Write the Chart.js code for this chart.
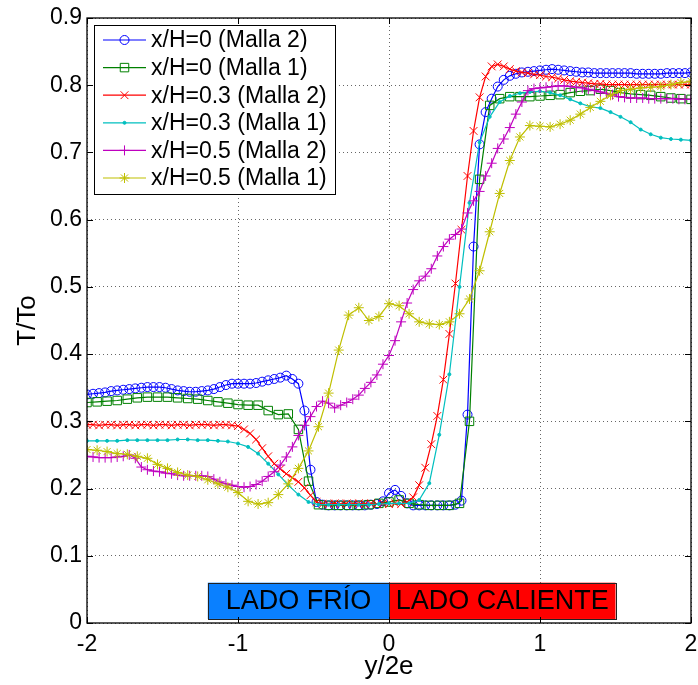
<!DOCTYPE html>
<html>
<head>
<meta charset="utf-8">
<script src="https://cdn.jsdelivr.net/npm/chart.js@4.4.1/dist/chart.umd.min.js"></script>
<style>
  html, body { margin: 0; padding: 0; background: #fff; }
  canvas { display: block; }
</style>
</head>
<body>
<canvas id="c" width="698" height="685"></canvas>
<script>
// positions across the channel (y/2e) for the two meshes
const xMalla2 = [-2, -1.96, -1.92, -1.88, -1.84, -1.8, -1.76, -1.72, -1.68, -1.64,
  -1.6, -1.56, -1.52, -1.48, -1.44, -1.4, -1.36, -1.32, -1.28, -1.24,
  -1.2, -1.16, -1.12, -1.08, -1.04, -1, -0.96, -0.92, -0.88, -0.84,
  -0.8, -0.76, -0.72, -0.68, -0.64, -0.6, -0.56, -0.52, -0.48, -0.44,
  -0.4, -0.36, -0.32, -0.28, -0.24, -0.2, -0.16, -0.12, -0.08, -0.04,
  0, 0.04, 0.08, 0.12, 0.16, 0.2, 0.24, 0.28, 0.32, 0.36,
  0.4, 0.44, 0.48, 0.52, 0.56, 0.6, 0.64, 0.68, 0.72, 0.76,
  0.8, 0.84, 0.88, 0.92, 0.96, 1, 1.04, 1.08, 1.12, 1.16,
  1.2, 1.24, 1.28, 1.32, 1.36, 1.4, 1.44, 1.48, 1.52, 1.56,
  1.6, 1.64, 1.68, 1.72, 1.76, 1.8, 1.84, 1.88, 1.92, 1.96, 2];

const xMalla1 = [-2, -1.933, -1.867, -1.8, -1.733, -1.667, -1.6, -1.533, -1.467, -1.4,
  -1.333, -1.267, -1.2, -1.133, -1.067, -1, -0.933, -0.867, -0.8, -0.733,
  -0.667, -0.6, -0.533, -0.467, -0.4, -0.333, -0.267, -0.2, -0.133, -0.067,
  0, 0.067, 0.133, 0.2, 0.267, 0.333, 0.4, 0.467, 0.533, 0.6,
  0.667, 0.733, 0.8, 0.867, 0.933, 1, 1.067, 1.133, 1.2, 1.267,
  1.333, 1.4, 1.467, 1.533, 1.6, 1.667, 1.733, 1.8, 1.867, 1.933, 2];

// T/To profiles
const tH0Malla2 = [0.340, 0.341, 0.342, 0.343, 0.345, 0.346, 0.347, 0.348, 0.349, 0.350,
  0.351, 0.351, 0.351, 0.350, 0.348, 0.346, 0.345, 0.344, 0.344, 0.345,
  0.346, 0.348, 0.351, 0.354, 0.356, 0.356, 0.356, 0.356, 0.357, 0.359,
  0.361, 0.363, 0.365, 0.368, 0.363, 0.356, 0.316, 0.228, 0.180, 0.176,
  0.175, 0.175, 0.175, 0.175, 0.175, 0.175, 0.175, 0.176, 0.177, 0.181,
  0.193, 0.198, 0.189, 0.178, 0.175, 0.175, 0.175, 0.175, 0.175, 0.175,
  0.175, 0.176, 0.182, 0.310, 0.560, 0.712, 0.760, 0.780, 0.798, 0.808,
  0.814, 0.817, 0.819, 0.820, 0.821, 0.822, 0.823, 0.824, 0.823, 0.822,
  0.821, 0.820, 0.819, 0.819, 0.818, 0.818, 0.818, 0.818, 0.818, 0.818,
  0.818, 0.817, 0.817, 0.817, 0.817, 0.817, 0.818, 0.818, 0.818, 0.818, 0.819];

const tH0Malla1 = [0.328, 0.329, 0.330, 0.331, 0.333, 0.335, 0.336, 0.336, 0.336, 0.335,
  0.334, 0.333, 0.331, 0.329, 0.327, 0.325, 0.324, 0.324, 0.316, 0.310,
  0.311, 0.288, 0.211, 0.176, 0.175, 0.175, 0.175, 0.175, 0.176, 0.178,
  0.180, 0.183, 0.178, 0.176, 0.175, 0.175, 0.175, 0.178, 0.300, 0.660,
  0.770, 0.780, 0.783, 0.783, 0.783, 0.784, 0.785, 0.786, 0.789, 0.791,
  0.792, 0.794, 0.792, 0.789, 0.787, 0.786, 0.785, 0.783, 0.781, 0.780, 0.779];

const tH03Malla2 = [0.295, 0.295, 0.294, 0.295, 0.295, 0.294, 0.295, 0.295, 0.294, 0.295,
  0.295, 0.294, 0.295, 0.295, 0.294, 0.295, 0.295, 0.294, 0.295, 0.295,
  0.295, 0.294, 0.295, 0.295, 0.294, 0.293, 0.288, 0.282, 0.273, 0.260,
  0.248, 0.237, 0.229, 0.222, 0.216, 0.210, 0.201, 0.190, 0.180, 0.177,
  0.177, 0.178, 0.177, 0.178, 0.177, 0.178, 0.177, 0.178, 0.177, 0.178,
  0.177, 0.178, 0.177, 0.180, 0.187, 0.205, 0.231, 0.266, 0.308, 0.362,
  0.430, 0.505, 0.585, 0.665, 0.732, 0.782, 0.813, 0.828, 0.831, 0.828,
  0.824, 0.821, 0.819, 0.818, 0.816, 0.815, 0.813, 0.812, 0.810, 0.808,
  0.806, 0.805, 0.804, 0.803, 0.802, 0.802, 0.801, 0.801, 0.801, 0.801,
  0.801, 0.801, 0.801, 0.801, 0.801, 0.801, 0.801, 0.801, 0.801, 0.801, 0.801];

const tH03Malla1 = [0.271, 0.271, 0.271, 0.271, 0.272, 0.272, 0.272, 0.272, 0.272, 0.273,
  0.273, 0.272, 0.272, 0.271, 0.270, 0.267, 0.262, 0.252, 0.237, 0.221,
  0.205, 0.191, 0.180, 0.176, 0.176, 0.176, 0.176, 0.176, 0.176, 0.177,
  0.178, 0.178, 0.178, 0.183, 0.208, 0.280, 0.370, 0.500, 0.625, 0.715,
  0.753, 0.775, 0.784, 0.788, 0.790, 0.791, 0.789, 0.785, 0.779, 0.773,
  0.768, 0.766, 0.760, 0.753, 0.745, 0.734, 0.727, 0.722, 0.720, 0.719, 0.718];

const tH05Malla2 = [0.248, 0.247, 0.246, 0.246, 0.246, 0.247, 0.248, 0.250, 0.245, 0.232,
  0.228, 0.226, 0.225, 0.223, 0.222, 0.220, 0.219, 0.219, 0.219, 0.219,
  0.218, 0.214, 0.210, 0.207, 0.205, 0.203, 0.202, 0.203, 0.206, 0.211,
  0.218, 0.225, 0.235, 0.247, 0.262, 0.279, 0.294, 0.307, 0.322, 0.330,
  0.327, 0.320, 0.324, 0.328, 0.333, 0.339, 0.349, 0.358, 0.369, 0.385,
  0.398, 0.420, 0.448, 0.476, 0.496, 0.509, 0.516, 0.527, 0.546, 0.560,
  0.571, 0.578, 0.586, 0.610, 0.628, 0.642, 0.665, 0.684, 0.706, 0.720,
  0.737, 0.757, 0.775, 0.792, 0.795, 0.796, 0.797, 0.798, 0.799, 0.799,
  0.798, 0.797, 0.796, 0.794, 0.792, 0.790, 0.788, 0.786, 0.783, 0.782,
  0.781, 0.781, 0.781, 0.780, 0.780, 0.780, 0.780, 0.780, 0.779, 0.779, 0.779];

const tH05Malla1 = [0.258, 0.257, 0.255, 0.252, 0.251, 0.248, 0.245, 0.236, 0.230, 0.224,
  0.220, 0.218, 0.213, 0.207, 0.202, 0.194, 0.181, 0.177, 0.179, 0.191,
  0.207, 0.230, 0.256, 0.292, 0.342, 0.406, 0.458, 0.469, 0.450, 0.456,
  0.475, 0.472, 0.460, 0.448, 0.445, 0.444, 0.448, 0.460, 0.482, 0.524,
  0.582, 0.639, 0.688, 0.723, 0.740, 0.739, 0.738, 0.742, 0.748, 0.757,
  0.767, 0.776, 0.785, 0.792, 0.794, 0.796, 0.797, 0.798, 0.801, 0.804, 0.806];

const xTicks = [-2, -1, 0, 1, 2];
const sideLabels = ['LADO FRÍO', 'LADO CALIENTE'];
const sideStart = [-1.2, 0];
const sideEnd = [0, 1.5];

const FONT = '"Liberation Sans", Arial, Helvetica, sans-serif';
Chart.defaults.font.family = FONT;
Chart.defaults.color = '#000';

const pts = (xs, ys) => xs.map((x, i) => ({ x: x, y: ys[i] }));

const series = [
  { label: 'x/H=0 (Malla 2)', data: pts(xMalla2, tH0Malla2), color: '#0000ff', style: 'circle', r: 4.5, fill: false },
  { label: 'x/H=0 (Malla 1)', data: pts(xMalla1, tH0Malla1), color: '#008000', style: 'rect', r: 6, fill: false },
  { label: 'x/H=0.3 (Malla 2)', data: pts(xMalla2, tH03Malla2), color: '#ff0000', style: 'crossRot', r: 5.5, fill: false },
  { label: 'x/H=0.3 (Malla 1)', data: pts(xMalla1, tH03Malla1), color: '#00bfbf', style: 'circle', r: 1.5, fill: true },
  { label: 'x/H=0.5 (Malla 2)', data: pts(xMalla2, tH05Malla2), color: '#bf00bf', style: 'cross', r: 5, fill: false },
  { label: 'x/H=0.5 (Malla 1)', data: pts(xMalla1, tH05Malla1), color: '#bfbf00', style: 'star', r: 5, fill: false }
];

const datasets = series.map((s, i) => ({
  label: s.label,
  data: s.data,
  borderColor: s.color,
  borderWidth: 1.2,
  pointStyle: s.style,
  pointRadius: s.r,
  pointBorderColor: s.color,
  pointBorderWidth: 1,
  pointBackgroundColor: s.fill ? s.color : 'rgba(0,0,0,0)',
  tension: 0,
  order: series.length - i
}));

// frame, inner ticks, side labels and legend box
const decor = {
  id: 'decor',
  afterDraw(chart) {
    const { ctx, chartArea: a, scales: { x, y } } = chart;
    ctx.save();

    // cold / hot side labels along the bottom
    const yTop = y.getPixelForValue(0.06);
    const yBot = y.getPixelForValue(0.006);
    const sideColors = ['#0a80ff', '#ff0000'];
    ctx.font = '27px ' + FONT;
    ctx.textAlign = 'center';
    ctx.textBaseline = 'middle';
    sideLabels.forEach((txt, i) => {
      const x0 = x.getPixelForValue(sideStart[i]);
      const x1 = x.getPixelForValue(sideEnd[i]);
      ctx.fillStyle = sideColors[i];
      ctx.fillRect(x0, yTop, x1 - x0, yBot - yTop);
      ctx.strokeStyle = '#222';
      ctx.lineWidth = 1;
      ctx.strokeRect(Math.round(x0) + 0.5, Math.round(yTop) + 0.5, Math.round(x1 - x0), Math.round(yBot - yTop));
      ctx.fillStyle = '#000';
      ctx.fillText(txt, (x0 + x1) / 2, (yTop + yBot) / 2 + 1);
    });

    // axes box
    ctx.strokeStyle = '#000';
    ctx.lineWidth = 1.3;
    ctx.strokeRect(a.left, a.top, a.right - a.left, a.bottom - a.top);
    ctx.lineWidth = 1;
    ctx.beginPath();
    x.ticks.forEach(t => {
      const px = Math.round(x.getPixelForValue(t.value)) + 0.5;
      ctx.moveTo(px, a.bottom); ctx.lineTo(px, a.bottom - 6);
      ctx.moveTo(px, a.top); ctx.lineTo(px, a.top + 6);
    });
    y.ticks.forEach(t => {
      const py = Math.round(y.getPixelForValue(t.value)) + 0.5;
      ctx.moveTo(a.left, py); ctx.lineTo(a.left + 6, py);
      ctx.moveTo(a.right, py); ctx.lineTo(a.right - 6, py);
    });
    ctx.stroke();

    // legend
    const lx = 94, ly = 25, lw = 241, lh = 169;
    ctx.fillStyle = '#fff';
    ctx.fillRect(lx, ly, lw, lh);
    ctx.strokeStyle = '#000';
    ctx.lineWidth = 1;
    ctx.strokeRect(lx + 0.5, ly + 0.5, lw, lh);
    ctx.font = '23px ' + FONT;
    ctx.textAlign = 'left';
    ctx.textBaseline = 'middle';
    chart.data.datasets.forEach((ds, i) => {
      const cy = ly + 15 + i * 27.6;
      ctx.strokeStyle = ds.borderColor;
      ctx.lineWidth = ds.borderWidth;
      ctx.beginPath();
      ctx.moveTo(lx + 9, cy); ctx.lineTo(lx + 52, cy);
      ctx.stroke();
      ctx.fillStyle = ds.pointBackgroundColor;
      ctx.lineWidth = 1;
      Chart.helpers.drawPoint(ctx, { pointStyle: ds.pointStyle, radius: ds.pointRadius, rotation: 0, borderWidth: 1 }, lx + 30.5, cy);
      ctx.fillStyle = '#000';
      ctx.fillText(ds.label, lx + 57, cy + 1);
    });

    ctx.restore();
  }
};

new Chart(document.getElementById('c'), {
  type: 'line',
  data: { datasets: datasets },
  plugins: [decor],
  options: {
    responsive: false,
    animation: false,
    devicePixelRatio: 1,
    layout: { padding: { top: 18, right: 6, left: 0, bottom: 0 } },
    plugins: { legend: { display: false }, tooltip: { enabled: false } },
    scales: {
      x: {
        type: 'linear',
        min: -2,
        max: 2,
        afterFit: s => { s.height = 62; s.paddingLeft = 0; s.paddingRight = 0; },
        afterBuildTicks: s => { s.ticks = xTicks.map(v => ({ value: v })); },
        ticks: { font: { size: 23 }, padding: 8, maxRotation: 0, callback: v => String(v) },
        grid: { color: 'rgba(0,0,0,0.6)', lineWidth: 1, drawTicks: false },
        border: { display: false, dash: [1, 3] },
        title: { display: true, text: 'y/2e', font: { size: 26 }, padding: { top: 0, bottom: 3 } }
      },
      y: {
        min: 0,
        max: 0.9,
        afterFit: s => { s.width = 87; s.paddingTop = 0; s.paddingBottom = 0; },
        ticks: { stepSize: 0.1, font: { size: 23 }, padding: 5, callback: v => String(Math.round(v * 10) / 10) },
        grid: { color: 'rgba(0,0,0,0.6)', lineWidth: 1, drawTicks: false },
        border: { display: false, dash: [1, 3] },
        title: { display: true, text: 'T/To', font: { size: 26 }, padding: { top: 12, bottom: 0 } }
      }
    }
  }
});
</script>
</body>
</html>
